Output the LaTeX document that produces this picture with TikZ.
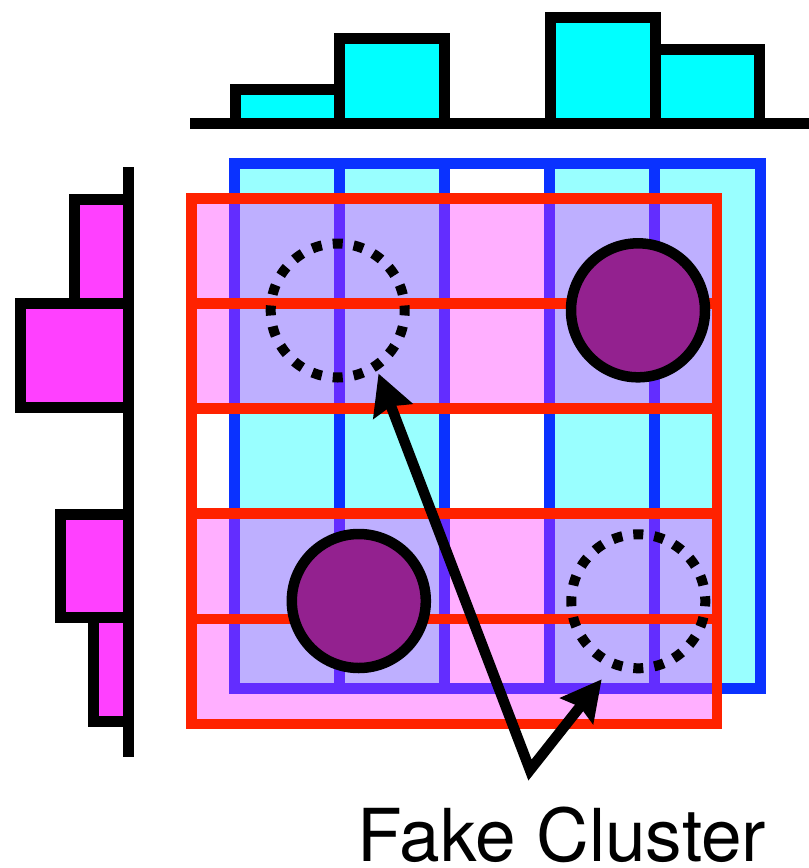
\documentclass[tikz,border=0pt]{standalone}
\usepackage{fontspec}
\newfontfamily\labfont{TeX Gyre Heros}
\usetikzlibrary{arrows.meta}
\definecolor{cyanfill}{RGB}{153,255,255}
\definecolor{gridblue}{RGB}{10,50,255}
\definecolor{pinkfill}{RGB}{255,37,255}
\definecolor{gridred}{RGB}{255,34,0}
\definecolor{clusterfill}{RGB}{147,33,143}
\definecolor{histcyan}{RGB}{0,255,255}
\definecolor{histmag}{RGB}{255,64,255}
\begin{document}
\begin{tikzpicture}[x=1pt,y=-1pt,
  bluegrid/.style={draw=gridblue,line width=11pt},
  redgrid/.style={draw=gridred,line width=10.5pt},
  pinkrow/.style={fill=pinkfill,fill opacity=0.363},
  cluster/.style={circle,draw=black,line width=10.5pt,fill=clusterfill,minimum size=134pt,inner sep=0pt},
  fakecluster/.style={circle,draw=black,line width=10pt,dash pattern=on 10pt off 11.05pt,dash phase=5pt,minimum size=134pt,inner sep=0pt},
  histbar/.style={draw=black,line width=11pt},
  axisline/.style={draw=black,line width=11pt},
  pointer/.style={draw=black,line width=10.5pt,{Stealth[length=40pt,width=41pt,inset=5pt]}-{Stealth[length=40pt,width=41pt,inset=5pt]}},
  labelstyle/.style={font=\labfont\fontsize{73}{80}\selectfont,inner sep=0pt,anchor=base}
]
\useasboundingbox (0,0) rectangle (809,868);

% back grid (columns)
\fill[cyanfill] (234,163.8) rectangle (444.4,688.7);
\fill[cyanfill] (549.6,163.8) rectangle (760,688.7);
\draw[bluegrid] (234,163.8) rectangle (760,688.7);
\foreach \x in {339.2,444.4,549.6,654.8} \draw[bluegrid] (\x,163.8) -- (\x,688.7);

% front grid (rows)
\fill[pinkrow] (191.3,198.3) rectangle (717,408.6);
\fill[pinkrow] (191.3,513.7) rectangle (717,724);
\draw[redgrid] (191.3,198.3) rectangle (717,724);
\foreach \y in {303.4,408.6,513.7,618.9} \draw[redgrid] (191.3,\y) -- (717,\y);

% clusters
\node[cluster] (c1) at (638,310.3) {};
\node[cluster] (c2) at (358.8,601) {};
\node[fakecluster] (f1) at (337.7,310.5) {};
\node[fakecluster] (f2) at (638.3,601.3) {};

% top histogram
\draw[histbar,fill=histcyan] (235,123.8) rectangle (339.5,89.3);
\draw[histbar,fill=histcyan] (339.5,123.8) rectangle (444,38.7);
\draw[histbar,fill=histcyan] (550,123.8) rectangle (655,17.3);
\draw[histbar,fill=histcyan] (655,123.8) rectangle (759.5,49.3);
\draw[axisline] (190,123.8) -- (809,123.8);

% left histogram
\draw[histbar,fill=histmag] (128.8,199.8) rectangle (74.2,303.6);
\draw[histbar,fill=histmag] (128.8,303.6) rectangle (20.8,407);
\draw[histbar,fill=histmag] (128.8,514) rectangle (60.8,617.6);
\draw[histbar,fill=histmag] (128.8,617.6) rectangle (93,721.4);
\draw[axisline] (128.8,167) -- (128.8,757);

% label and arrows
\node[labelstyle] (lbl) at (562,861.7) {Fake Cluster};
\coordinate (apex) at (530,770);
\coordinate (t1) at (378.5,373.5);
\coordinate (t2) at (601.7,679.3);
\draw[pointer] (t1) -- (apex) -- (t2);
\end{tikzpicture}
\end{document}
